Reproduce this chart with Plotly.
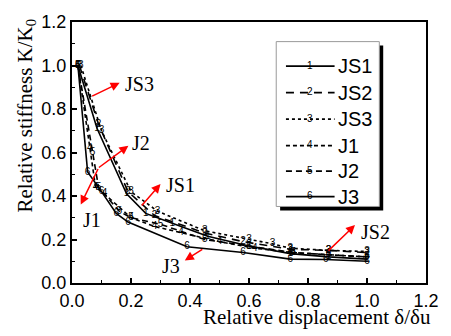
import plotly.graph_objects as go

# ---- data ----
series_names = ["JS1", "JS2", "JS3", "J1", "J2", "J3"]
marker_digits = ["1", "2", "3", "4", "5", "6"]

js1_x = [0.02, 0.085, 0.185, 0.25, 0.34, 0.46, 0.60, 0.74, 0.87, 1.00]
js1_y = [1.00, 0.71, 0.41, 0.32, 0.275, 0.215, 0.17, 0.135, 0.12, 0.11]

js2_x = [0.025, 0.09, 0.19, 0.28, 0.45, 0.58, 0.74, 0.87, 1.00]
js2_y = [1.00, 0.73, 0.42, 0.31, 0.23, 0.19, 0.155, 0.15, 0.14]

js3_x = [0.03, 0.10, 0.20, 0.29, 0.45, 0.60, 0.68, 0.74, 0.87, 1.00]
js3_y = [1.00, 0.70, 0.42, 0.33, 0.24, 0.20, 0.18, 0.16, 0.15, 0.145]

j1_x = [0.02, 0.06, 0.08, 0.11, 0.20, 0.28, 0.37, 0.50, 0.62, 0.75, 0.87, 1.00]
j1_y = [1.00, 0.62, 0.44, 0.41, 0.30, 0.26, 0.23, 0.19, 0.16, 0.14, 0.13, 0.12]

j2_x = [0.02, 0.07, 0.09, 0.16, 0.20, 0.30, 0.45, 0.60, 0.75, 0.87, 1.00]
j2_y = [1.00, 0.60, 0.44, 0.33, 0.30, 0.27, 0.20, 0.17, 0.14, 0.13, 0.12]

j3_x = [0.02, 0.053, 0.10, 0.15, 0.19, 0.39, 0.58, 0.74, 0.86, 1.00]
j3_y = [1.00, 0.51, 0.42, 0.32, 0.28, 0.167, 0.14, 0.11, 0.108, 0.10]

xs = [js1_x, js2_x, js3_x, j1_x, j2_x, j3_x]
ys = [js1_y, js2_y, js3_y, j1_y, j2_y, j3_y]

x_ticks = [0.0, 0.2, 0.4, 0.6, 0.8, 1.0, 1.2]
y_ticks = [0.0, 0.2, 0.4, 0.6, 0.8, 1.0, 1.2]

x_title = "Relative displacement δ/δu"
y_title = "Relative stiffness K/K<sub>0</sub>"

# ---- styles ----
dashes = ["solid", "8px,6px", "dot", "4px,3px", "6px,4px", "solid"]
SANS = "Liberation Sans, Arial"
SERIF = "Liberation Serif, Times New Roman"

W, H = 451, 336
L, R, T, B = 72, 15, 17, 53
PW, PH = W - L - R, H - T - B


def px2paper(px, py):
    return (px - L) / PW, (H - B - py) / PH


def px2data(px, py):
    return (px - L) / PW * 1.2, (H - B - py) / PH * 1.2


fig = go.Figure()
for i in range(6):
    fig.add_trace(go.Scatter(
        x=xs[i], y=ys[i], mode="lines+text",
        text=[marker_digits[i]] * len(xs[i]),
        textposition="middle center",
        textfont=dict(family=SANS, size=10, color="black"),
        line=dict(color="black", width=1.6, dash=dashes[i]),
        name=series_names[i], showlegend=False,
    ))

shapes = []
annotations = []

# custom legend box with shadow
lx0, ly0, lx1, ly1 = 282, 37, 388, 205
sx0, sy0 = px2paper(lx0 + 4, ly1 + 4)
sx1, sy1 = px2paper(lx1 + 4, ly0 + 4)
shapes.append(dict(type="rect", xref="paper", yref="paper", x0=sx0, y0=sy0, x1=sx1, y1=sy1,
                   fillcolor="black", line=dict(width=0), layer="above"))
bx0, by0 = px2paper(lx0, ly1)
bx1, by1 = px2paper(lx1, ly0)
shapes.append(dict(type="rect", xref="paper", yref="paper", x0=bx0, y0=by0, x1=bx1, y1=by1,
                   fillcolor="white", line=dict(color="#999999", width=1), layer="above"))
row_y = [62, 89, 116, 143, 169, 195]
for i in range(6):
    a0, yy = px2paper(292, row_y[i])
    a1, _ = px2paper(342, row_y[i])
    shapes.append(dict(type="line", xref="paper", yref="paper", x0=a0, y0=yy, x1=a1, y1=yy,
                       line=dict(color="black", width=1.6, dash=dashes[i]), layer="above"))
    mx, _ = px2paper(317, row_y[i])
    annotations.append(dict(xref="paper", yref="paper", x=mx, y=yy, xanchor="center", yanchor="middle",
                            text=marker_digits[i], showarrow=False, yshift=1,
                            font=dict(family=SANS, size=10, color="black")))
    tx, _ = px2paper(343, row_y[i])
    annotations.append(dict(xref="paper", yref="paper", x=tx, y=yy, xanchor="left", yanchor="middle",
                            text=series_names[i], showarrow=False,
                            font=dict(family=SANS, size=20, color="black")))

# red arrows with labels: (label, tail px, head px, label center px)
arrows = [
    ("JS3", (92, 93), (121, 79), (141, 80)),
    ("J2", (99, 166), (130, 143), (143, 140)),
    ("J1", (99, 166), (81, 203), (93, 219)),
    ("JS1", (143, 205), (163, 182), (184, 183)),
    ("J3", (207, 248), (188, 260), (174, 266)),
    ("JS2", (335, 251), (363, 224), (384, 231)),
]
for lab, tail, head, lc in arrows:
    hx, hy = px2data(*head)
    annotations.append(dict(x=hx, y=hy, xref="x", yref="y", ax=tail[0] - head[0], ay=tail[1] - head[1],
                            axref="pixel", ayref="pixel", showarrow=True, arrowhead=2, arrowsize=1.2,
                            arrowwidth=1.5, arrowcolor="red", text=""))
    cx, cy = px2data(*lc)
    annotations.append(dict(x=cx, y=cy, xref="x", yref="y", text=lab, showarrow=False,
                            font=dict(family=SERIF, size=20, color="black")))

# axis titles
tx, ty = px2paper(324, 318)
annotations.append(dict(xref="paper", yref="paper", x=tx, y=ty, text=x_title, showarrow=False,
                        xanchor="center", yanchor="middle", font=dict(family=SERIF, size=21, color="black")))
tx, ty = px2paper(25, 112)
annotations.append(dict(xref="paper", yref="paper", x=tx, y=ty, text=y_title, showarrow=False, textangle=-90,
                        xanchor="center", yanchor="middle", font=dict(family=SERIF, size=21, color="black")))

axis_common = dict(range=[0, 1.2], showline=True, linecolor="black", linewidth=2, mirror=True,
                   ticks="inside", ticklen=5, tickwidth=1.5, tickcolor="black",
                   showgrid=False, zeroline=False,
                   tickfont=dict(family=SANS, size=18, color="black"),
                   minor=dict(ticks="inside", ticklen=3, tickwidth=1.2, tickcolor="black", dtick=0.1))

fig.update_layout(
    width=W, height=H,
    margin=dict(l=L, r=R, t=T, b=B),
    paper_bgcolor="white", plot_bgcolor="white",
    xaxis=dict(axis_common, tickvals=x_ticks, ticktext=[f"{v:.1f}" for v in x_ticks]),
    yaxis=dict(axis_common, tickvals=y_ticks, ticktext=[f"{v:.1f}" for v in y_ticks]),
    shapes=shapes, annotations=annotations, showlegend=False,
)

fig.write_html("out.html")
